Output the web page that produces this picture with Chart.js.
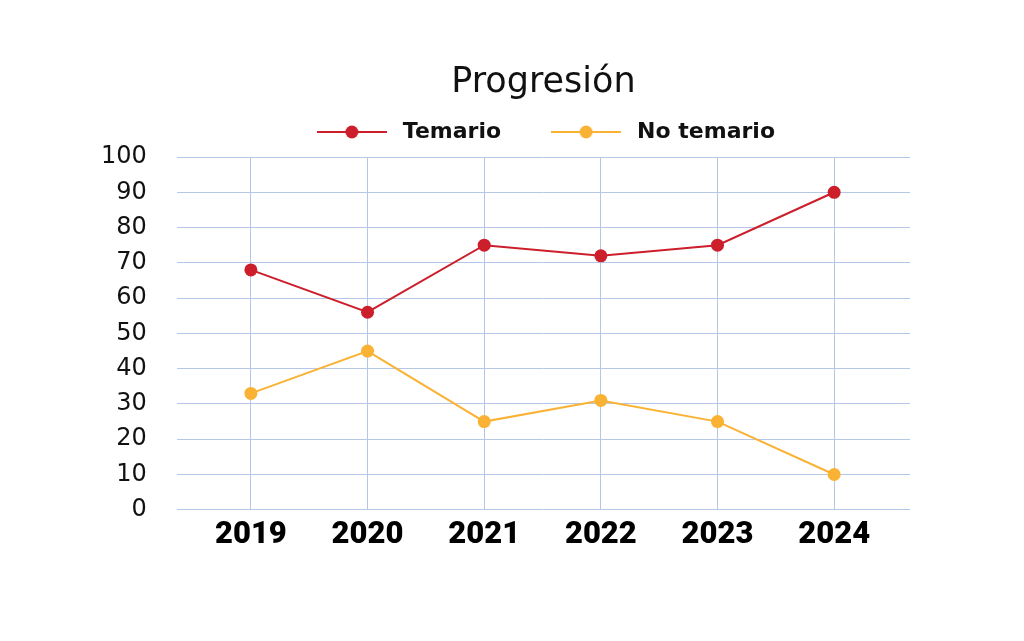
<!DOCTYPE html>
<html>
<head>
<meta charset="utf-8">
<script src="https://cdn.jsdelivr.net/npm/chart.js@4/dist/chart.umd.min.js"></script>
<style>
  html, body { margin: 0; padding: 0; background: #fff; }
  #wrap { width: 1024px; height: 641px; }
</style>
</head>
<body>
<div id="wrap"><canvas id="chart" width="1024" height="641"></canvas></div>
<script>
// data
const years = [2019, 2020, 2021, 2022, 2023, 2024]
const temario = [68, 56, 75, 72, 75, 90]
const noTemario = [33, 45, 25, 31, 25, 10]

// colours
const RED = '#cc1f2b'
const ORANGE = '#f9b233'
const GRID = '#b4c7e7'

// legend icon: short line with a dot in the middle
function legendIcon(color) {
  const c = document.createElement('canvas')
  c.width = 70
  c.height = 14
  const ctx = c.getContext('2d')
  ctx.strokeStyle = color
  ctx.lineWidth = 2
  ctx.beginPath()
  ctx.moveTo(0, 7)
  ctx.lineTo(70, 7)
  ctx.stroke()
  ctx.fillStyle = color
  ctx.beginPath()
  ctx.arc(35, 7, 6.5, 0, Math.PI * 2)
  ctx.fill()
  return c
}
const icons = [legendIcon(RED), legendIcon(ORANGE)]

const toPoints = vals => years.map((yr, i) => ({ x: yr, y: vals[i] }))

new Chart(document.getElementById('chart'), {
  type: 'line',
  data: {
    datasets: [
      {
        label: 'Temario',
        data: toPoints(temario),
        borderColor: RED,
        backgroundColor: RED,
        borderWidth: 2,
        pointRadius: 6.5,
        pointBorderWidth: 0,
        tension: 0
      },
      {
        label: 'No temario',
        data: toPoints(noTemario),
        borderColor: ORANGE,
        backgroundColor: ORANGE,
        borderWidth: 2,
        pointRadius: 6.5,
        pointBorderWidth: 0,
        tension: 0
      }
    ]
  },
  options: {
    responsive: false,
    animation: false,
    layout: { padding: { top: 0, left: 71, right: 114, bottom: 80 } },
    plugins: {
      title: {
        display: true,
        fullSize: false,
        text: 'Progresión',
        color: '#111',
        font: { family: '"DejaVu Sans", sans-serif', size: 35, weight: 'normal' },
        padding: { top: 62, bottom: -28 }
      },
      // empty spacer between legend and plot
      subtitle: {
        display: true,
        fullSize: false,
        weight: 500,
        text: ' ',
        font: { size: 4, lineHeight: 1 },
        padding: 0
      },
      legend: {
        display: true,
        fullSize: false,
        labels: {
          usePointStyle: true,
          pointStyleWidth: 80,
          boxHeight: 14,
          padding: 45,
          color: '#111',
          font: { family: '"DejaVu Sans", sans-serif', size: 22, weight: 'bold' },
          generateLabels: chart => {
            const items = Chart.defaults.plugins.legend.labels.generateLabels(chart)
            items.forEach((it, i) => { it.pointStyle = icons[i] })
            return items
          }
        }
      },
      tooltip: { enabled: false }
    },
    scales: {
      x: {
        type: 'linear',
        min: 2018.365,
        max: 2024.65,
        border: { display: false },
        grid: { color: GRID, lineWidth: 1, drawTicks: false },
        ticks: {
          stepSize: 1,
          includeBounds: false,
          autoSkip: false,
          maxRotation: 0,
          padding: 7,
          color: '#000',
          font: { family: 'Roboto, sans-serif', size: 31, weight: '900' },
          callback: v => String(v)
        }
      },
      y: {
        min: 0,
        max: 100,
        border: { display: false },
        grid: { color: GRID, lineWidth: 1, drawTicks: false },
        ticks: {
          stepSize: 10,
          autoSkip: false,
          padding: 30,
          color: '#111',
          font: { family: '"DejaVu Sans", sans-serif', size: 24, weight: 'normal' }
        }
      }
    }
  }
})
</script>
</body>
</html>
